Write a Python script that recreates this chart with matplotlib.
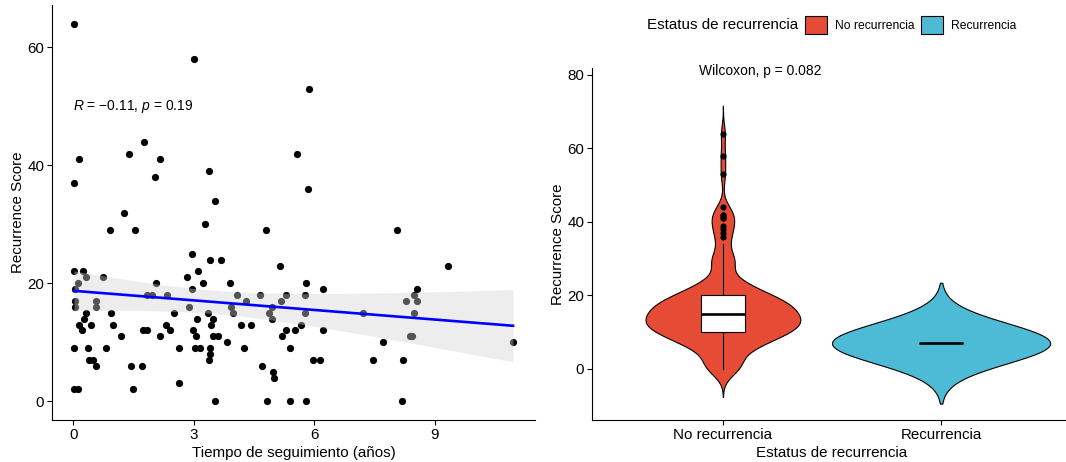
import numpy as np
import matplotlib.pyplot as plt
from matplotlib.patches import Patch

plt.rcParams['font.family'] = ['Liberation Sans', 'DejaVu Sans']
plt.rcParams['mathtext.fontset'] = 'custom'
plt.rcParams['mathtext.rm'] = 'Liberation Sans'
plt.rcParams['mathtext.it'] = 'Liberation Sans:italic'

# pacientes sin recurrencia: tiempo de seguimiento (años) y score
tiempo_no = [0.03, 3.02, 5.86, 1.77, 1.40, 5.57, 0.15, 2.15, 3.39, 2.03, 0.03, 5.84,
             3.53, 1.27, 3.28, 0.91, 1.55, 4.81, 8.07, 2.97, 3.40, 3.69, 5.15, 9.32,
             0.02, 0.24, 3.12, 0.32, 0.75, 2.84, 0.13, 2.06, 3.22, 3.91, 5.80, 0.04,
             2.96, 6.23, 8.56, 1.85, 1.96, 2.33, 4.07, 4.66, 5.29, 5.77, 8.49, 0.04,
             0.57, 4.30, 5.18, 8.29, 8.56, 0.04, 0.57, 2.89, 3.92, 4.94, 0.31, 0.95,
             2.51, 3.35, 3.98, 4.87, 5.76, 7.22, 8.48, 0.26, 3.08, 3.49, 4.95, 0.15,
             0.44, 1.00, 2.31, 3.43, 4.18, 4.42, 5.68, 0.22, 1.75, 1.85, 2.41, 2.98,
             5.31, 5.51, 6.22, 1.18, 2.15, 3.06, 3.47, 3.60, 5.20, 8.38, 8.43, 3.82,
             7.72, 10.95, 0.02, 0.37, 0.83, 2.63, 3.04, 3.15, 3.41, 4.26, 5.40, 3.41,
             0.40, 0.50, 3.39, 5.98, 6.14, 0.58, 1.45, 1.71, 4.71, 4.98, 5.00, 2.63,
             0.02, 0.11, 1.48, 3.54, 4.82, 5.39, 5.79, 8.18]
score_no = [64, 58, 53, 44, 42, 42, 41, 41, 39, 38, 37, 36,
            34, 32, 30, 29, 29, 29, 29, 25, 24, 24, 23, 23,
            22, 22, 22, 21, 21, 21, 20, 20, 20, 20, 20, 19,
            19, 19, 19, 18, 18, 18, 18, 18, 18, 18, 18, 17,
            17, 17, 17, 17, 17, 16, 16, 16, 16, 16, 15, 15,
            15, 15, 15, 15, 15, 15, 15, 14, 14, 14, 14, 13,
            13, 13, 13, 13, 13, 13, 13, 12, 12, 12, 12, 12,
            12, 12, 12, 11, 11, 11, 11, 11, 11, 11, 11, 10,
            10, 10, 9, 9, 9, 9, 9, 9, 9, 9, 9, 8,
            7, 7, 7, 7, 7, 6, 6, 6, 6, 5, 4, 3,
            2, 2, 2, 0, 0, 0, 0, 0]

# pacientes con recurrencia
tiempo_rec = [7.47, 8.21]
score_rec = [7, 7]

grupos = ['No recurrencia', 'Recurrencia']
colores = ['#E64B35', '#4DBBD5']

x = np.array(tiempo_no + tiempo_rec)
y = np.array(score_no + score_rec, dtype=float)

fig = plt.figure(figsize=(10.66, 4.62), dpi=100)
ax1 = fig.add_axes([52 / 1066, 1 - 420 / 462, (535 - 52) / 1066, 415 / 462])
ax2 = fig.add_axes([592 / 1066, 1 - 420 / 462, (1072 - 592) / 1066, (420 - 68) / 462])

FS = 10.9

def estilo(ax):
    for s in ['top', 'right']:
        ax.spines[s].set_visible(False)
    for s in ['left', 'bottom']:
        ax.spines[s].set_linewidth(0.8)
        ax.spines[s].set_color('black')
    ax.tick_params(direction='out', length=3.5, width=0.8, colors='black',
                   labelsize=FS, pad=2)

# ---- dispersión + regresión lineal ----
ax1.scatter(x, y, s=27, color='black', linewidths=0, zorder=2)

n = len(x)
b1, b0 = np.polyfit(x, y, 1)
xs = np.linspace(x.min(), x.max(), 80)
yh = b0 + b1 * xs
res = y - (b0 + b1 * x)
s_err = np.sqrt(np.sum(res ** 2) / (n - 2))
sxx = np.sum((x - x.mean()) ** 2)
se = s_err * np.sqrt(1 / n + (xs - x.mean()) ** 2 / sxx)
t = 1.979
ax1.fill_between(xs, yh - t * se, yh + t * se, color='#D3D3D3', alpha=0.4,
                 linewidth=0, zorder=3)
ax1.plot(xs, yh, color='blue', linewidth=1.9, zorder=4)

ax1.text(0, 50, r'$R$ = $-$0.11, $p$ = 0.19', fontsize=10, ha='left', va='center')

xr = x.max() - x.min()
ax1.set_xlim(x.min() - 0.05 * xr, x.max() + 0.05 * xr)
ax1.set_ylim(-3.2, 67.2)
ax1.set_xticks([0, 3, 6, 9])
ax1.set_yticks([0, 20, 40, 60])
ax1.set_xlabel('Tiempo de seguimiento (años)', fontsize=FS, labelpad=3)
ax1.set_ylabel('Recurrence Score', fontsize=FS, labelpad=1.5)
estilo(ax1)

# ---- violines ----
def bw_nrd0(v):
    v = np.asarray(v, dtype=float)
    hi = v.std(ddof=1)
    iqr = np.subtract(*np.percentile(v, [75, 25]))
    lo = min(hi, iqr / 1.34)
    if not lo:
        lo = hi or abs(v[0]) or 1
    return 0.9 * lo * len(v) ** -0.2

datos = [np.array(score_no, float), np.array(score_rec, float)]
dens = []
for v in datos:
    bw = bw_nrd0(v)
    g = np.linspace(v.min() - 3 * bw, v.max() + 3 * bw, 512)
    d = np.exp(-0.5 * ((g[:, None] - v[None, :]) / bw) ** 2).sum(1) / (len(v) * bw * np.sqrt(2 * np.pi))
    dens.append((g, d))
dmax = max(d.max() for _, d in dens)
for i, (g, d) in enumerate(dens):
    w = 0.5 * d / dmax
    ax2.fill_betweenx(g, i - w, i + w, facecolor=colores[i], edgecolor='black',
                      linewidth=0.8, zorder=2)

ax2.boxplot(datos, positions=[0, 1], widths=0.2, patch_artist=True, showcaps=False,
            whis=1.5, manage_ticks=False,
            boxprops=dict(facecolor='white', edgecolor='black', linewidth=0.8),
            medianprops=dict(color='black', linewidth=1.9),
            whiskerprops=dict(color='black', linewidth=0.8),
            flierprops=dict(marker='o', markerfacecolor='black', markeredgecolor='black',
                            markersize=3.4),
            zorder=3)

ax2.text(-0.11, 81, 'Wilcoxon, p = 0.082', fontsize=10, ha='left', va='center')
ax2.set_xlim(-0.6, 1.6)
ax2.set_ylim(-13.9, 81.9)
ax2.set_xticks([0, 1])
ax2.set_xticklabels(grupos)
ax2.set_yticks([0, 20, 40, 60, 80])
ax2.set_xlabel('Estatus de recurrencia', fontsize=FS, labelpad=3)
ax2.set_ylabel('Recurrence Score', fontsize=FS, labelpad=1.5)
estilo(ax2)

# ---- leyenda ----
fig.text(798 / 1066, 1 - 25 / 462, 'Estatus de recurrencia', fontsize=FS,
         ha='right', va='center')
handles = [Patch(facecolor=c, edgecolor='black', linewidth=0.8) for c in colores]
fig.legend(handles, grupos, loc='center left', bbox_to_anchor=(805 / 1066, 1 - 25 / 462),
           ncol=2, frameon=False, fontsize=8.7, borderpad=0, borderaxespad=0,
           handlelength=1.8, handleheight=1.8, handletextpad=0.65, columnspacing=0.6)

fig.savefig('out.png', dpi=100)
